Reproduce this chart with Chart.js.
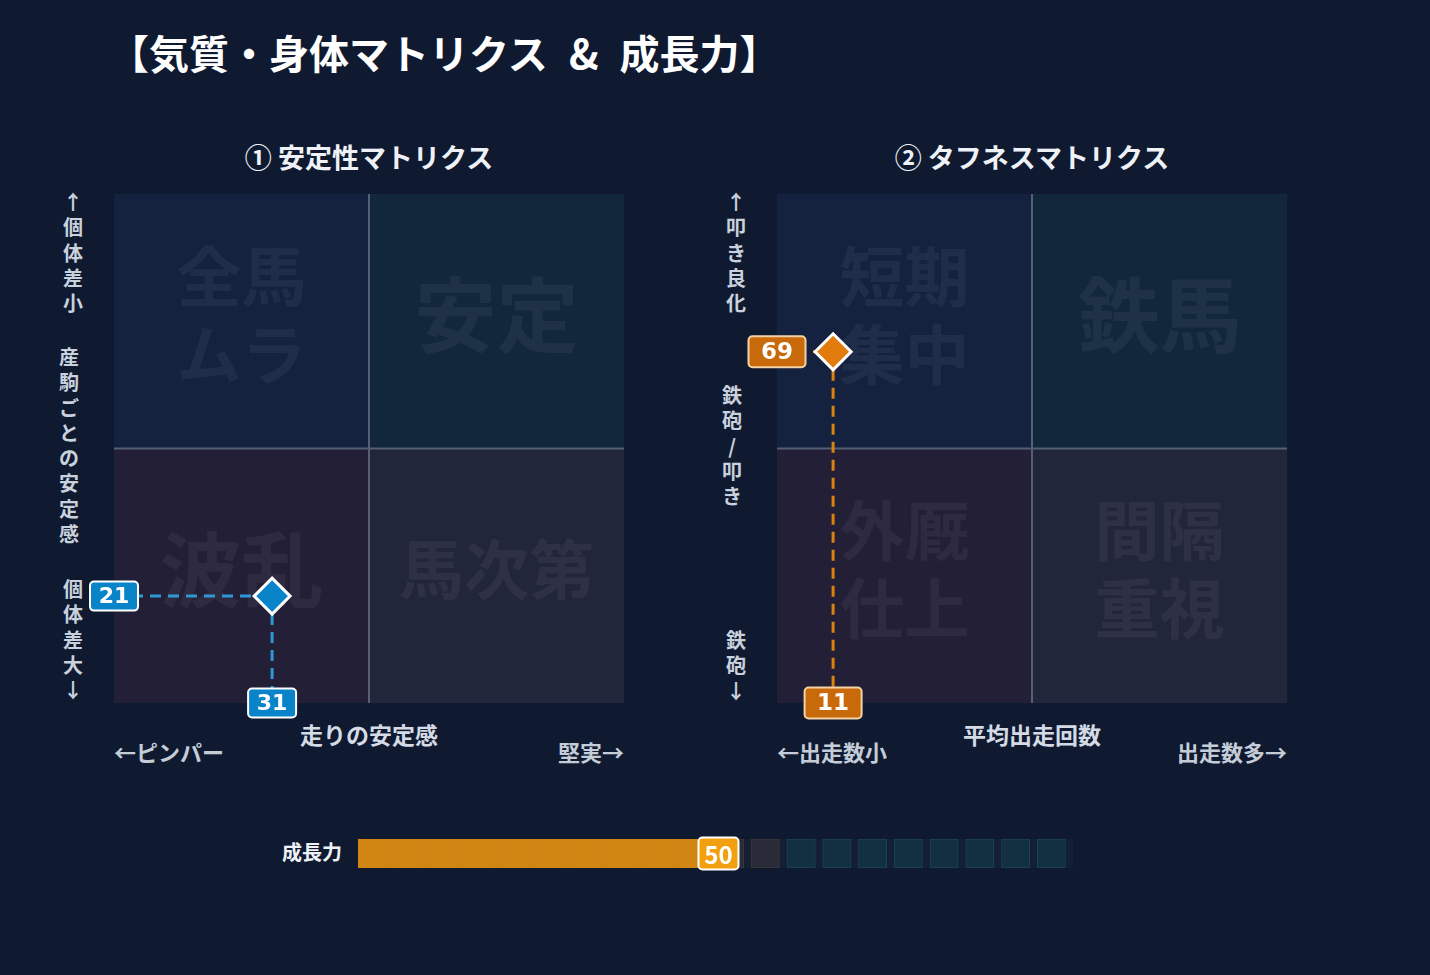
<!DOCTYPE html>
<html><head><meta charset="utf-8">
<script src="https://cdn.jsdelivr.net/npm/chart.js@4.4.1/dist/chart.umd.min.js"></script>
<style>
body{margin:0;background:#0f1a31;width:1430px;height:975px;overflow:hidden;position:relative;font-family:"Noto Sans CJK JP","Noto Sans",sans-serif;}
.abs{position:absolute;}
.title{left:109px;top:26px;font-size:40px;font-weight:700;color:#ffffff;line-height:52px;white-space:pre;word-spacing:12px;}
.sub{top:140px;width:510px;text-align:center;font-size:27px;font-weight:700;color:#eef2f7;line-height:34px;white-space:nowrap;}
.vt{width:30px;text-align:center;font-size:20px;font-weight:700;color:#c9d1dd;line-height:25.3px;}
.xt{font-size:23px;font-weight:700;color:#d4dbe5;line-height:28px;white-space:nowrap;text-align:center;width:510px;}
.xl{font-size:22px;font-weight:700;color:#c4ccd8;line-height:26px;white-space:nowrap;}
canvas{position:absolute;}
</style></head>
<body>
<div class="abs title">【気質・身体マトリクス &amp; 成長力】</div>
<div class="abs sub" id="sub1" style="left:114px">① 安定性マトリクス</div>
<div class="abs sub" id="sub2" style="left:777px">② タフネスマトリクス</div>

<div class="abs vt" style="left:58px;top:189px">↑<br>個<br>体<br>差<br>小</div>
<div class="abs vt" style="left:54px;top:344px">産<br>駒<br>ご<br>と<br>の<br>安<br>定<br>感</div>
<div class="abs vt" style="left:58px;top:576px">個<br>体<br>差<br>大<br>↓</div>

<div class="abs vt" style="left:721px;top:189px">↑<br>叩<br>き<br>良<br>化</div>
<div class="abs vt" style="left:717px;top:382px">鉄<br>砲<br>/<br>叩<br>き</div>
<div class="abs vt" style="left:721px;top:627px">鉄<br>砲<br>↓</div>

<div class="abs xt" style="left:114px;top:720px">走りの安定感</div>
<div class="abs xl" style="left:114px;top:738px">←ピンパー</div>
<div class="abs xl" style="left:504px;top:738px;width:120px;text-align:right">堅実→</div>

<div class="abs xt" style="left:777px;top:720px">平均出走回数</div>
<div class="abs xl" style="left:777px;top:738px">←出走数小</div>
<div class="abs xl" style="left:1127px;top:738px;width:160px;text-align:right">出走数多→</div>

<div class="abs" style="left:232px;top:838px;width:110px;text-align:right;font-size:20px;font-weight:700;color:#eef2f7;line-height:28px">成長力</div>

<canvas id="c1" width="580" height="560" style="left:80px;top:180px"></canvas>
<canvas id="c2" width="580" height="560" style="left:743px;top:180px"></canvas>
<canvas id="c3" width="760" height="50" style="left:340px;top:830px"></canvas>

<script>
// ---- data ----
const stabilityQuadrants = [['全馬','ムラ'], ['安定'], ['波乱'], ['馬次第']]; // TL, TR, BL, BR
const toughnessQuadrants = [['短期','集中'], ['鉄馬'], ['外厩','仕上'], ['間隔','重視']];
const stabilityX = [31];   // 走りの安定感
const stabilityY = [21];   // 産駒ごとの安定感
const toughnessX = [11];   // 平均出走回数
const toughnessY = [69];   // 鉄砲/叩き
const growthValue = [50];  // 成長力
const growthMax = 100;
const growthSegments = 20;

const quadColors = ['#14213f', '#12273b', '#221f36', '#22263a'];

function roundBox(ctx, cx, cy, w, h, fill, stroke, text, font) {
  ctx.save();
  ctx.beginPath();
  if (ctx.roundRect) ctx.roundRect(cx - w / 2, cy - h / 2, w, h, 4);
  else ctx.rect(cx - w / 2, cy - h / 2, w, h);
  ctx.fillStyle = fill; ctx.fill();
  ctx.lineWidth = 2; ctx.strokeStyle = stroke; ctx.stroke();
  ctx.fillStyle = '#ffffff'; ctx.font = font;
  ctx.textAlign = 'center'; ctx.textBaseline = 'middle';
  ctx.fillText(text, cx, cy + 1);
  ctx.restore();
}

const quadPlugin = {
  id: 'quad',
  beforeDatasetsDraw(chart, args, opts) {
    const ctx = chart.ctx, xs = chart.scales.x, ys = chart.scales.y, a = chart.chartArea;
    const mx = xs.getPixelForValue(50), my = ys.getPixelForValue(50);
    const rects = [[a.left, a.top, mx, my], [mx, a.top, a.right, my], [a.left, my, mx, a.bottom], [mx, my, a.right, a.bottom]];
    ctx.save();
    rects.forEach((r, i) => { ctx.fillStyle = quadColors[i]; ctx.fillRect(r[0], r[1], r[2] - r[0], r[3] - r[1]); });
    ctx.strokeStyle = '#556075'; ctx.lineWidth = 2;
    ctx.beginPath(); ctx.moveTo(mx, a.top); ctx.lineTo(mx, a.bottom); ctx.moveTo(a.left, my); ctx.lineTo(a.right, my); ctx.stroke();
    ctx.fillStyle = 'rgba(255,255,255,0.055)';
    ctx.textAlign = 'center'; ctx.textBaseline = 'middle';
    opts.words.forEach((lines, i) => {
      const r = rects[i];
      const cx = (r[0] + r[2]) / 2, cy = (r[1] + r[3]) / 2 - 6;
      let size = lines.length === 1 && lines[0].length === 2 ? 82 : 65;
      ctx.font = `700 ${size}px "Noto Sans CJK JP"`;
      const lh = 78;
      lines.forEach((t, j) => ctx.fillText(t, cx, cy + (j - (lines.length - 1) / 2) * lh));
    });
    ctx.restore();
  },
  afterDatasetsDraw(chart, args, opts) {
    const ctx = chart.ctx, xs = chart.scales.x, ys = chart.scales.y, a = chart.chartArea;
    const px = xs.getPixelForValue(opts.x), py = ys.getPixelForValue(opts.y);
    roundBox(ctx, a.left, py, opts.bw, opts.bh, opts.fill, opts.stroke, String(opts.y), opts.font);
    roundBox(ctx, px, a.bottom, opts.bw, opts.bh, opts.fill, opts.stroke, String(opts.x), opts.font);
  }
};

function matrixChart(id, words, xv, yv, pointColor, lineColor, labelFill, labelStroke, bw, bh, font) {
  return new Chart(document.getElementById(id), {
    type: 'scatter',
    data: {
      datasets: [
        { data: [{ x: xv, y: yv }], pointStyle: 'rectRot', pointRadius: 18, borderWidth: 3,
          borderColor: '#ffffff', backgroundColor: pointColor, order: 0 },
        { data: [{ x: 0, y: yv }, { x: xv, y: yv }], showLine: true, pointRadius: 0,
          borderColor: lineColor, borderWidth: 3, borderDash: [11, 7], order: 1 },
        { data: [{ x: xv, y: yv }, { x: xv, y: 0 }], showLine: true, pointRadius: 0,
          borderColor: lineColor, borderWidth: 3, borderDash: [11, 7], order: 1 }
      ]
    },
    options: {
      responsive: false, animation: false,
      layout: { autoPadding: false, padding: { left: 34, top: 14, right: 36, bottom: 37 } },
      scales: { x: { display: false, min: 0, max: 100 }, y: { display: false, min: 0, max: 100 } },
      plugins: { legend: { display: false }, tooltip: { enabled: false },
        quad: { words, x: xv, y: yv, fill: labelFill, stroke: labelStroke, bw, bh, font } }
    },
    plugins: [quadPlugin]
  });
}

matrixChart('c1', stabilityQuadrants, stabilityX[0], stabilityY[0], '#0a84c8', '#2f97d6',
  '#0a84c8', '#ffffff', 48, 29, '700 22px "DejaVu Sans"');
matrixChart('c2', toughnessQuadrants, toughnessX[0], toughnessY[0], '#e07b0c', '#d9820e',
  '#c8690a', '#f3d3a6', 57, 31, '700 23px "DejaVu Sans"');

// ---- growth bar ----
const segW = growthMax / growthSegments;
const segDatasets = [];
for (let i = 0; i < growthSegments; i++) {
  const s = i * segW;
  const teal = s >= 60;
  segDatasets.push({ data: [[s, s + segW * 0.79]], backgroundColor: teal ? '#12303f' : '#292c38',
    borderColor: teal ? '#1b4452' : '#3b3833', borderWidth: 1, borderSkipped: false, order: 1 });
}
const growthLabelPlugin = {
  id: 'glabel',
  afterDatasetsDraw(chart) {
    const xs = chart.scales.x, a = chart.chartArea;
    const px = xs.getPixelForValue(growthValue[0]);
    roundBox(chart.ctx, px + 3, (a.top + a.bottom) / 2, 40, 32, '#f3a010', '#ffffff', String(growthValue[0]),
      '700 24px "Noto Sans CJK JP"');
  }
};
new Chart(document.getElementById('c3'), {
  type: 'bar',
  data: {
    labels: ['成長力'],
    datasets: [
      { data: [[0, growthValue[0]]], backgroundColor: 'rgba(218,139,18,0.95)', order: 0 },
      ...segDatasets,
      { data: [[0, growthMax]], backgroundColor: 'rgba(255,255,255,0.025)', order: 2 }
    ]
  },
  options: {
    indexAxis: 'y', responsive: false, animation: false,
    layout: { padding: { left: 18, right: 27, top: 9, bottom: 12 } },
    datasets: { bar: { barPercentage: 1, categoryPercentage: 1, grouped: false } },
    scales: { x: { display: false, min: 0, max: growthMax }, y: { display: false } },
    plugins: { legend: { display: false }, tooltip: { enabled: false } }
  },
  plugins: [growthLabelPlugin]
});
</script>
</body></html>
